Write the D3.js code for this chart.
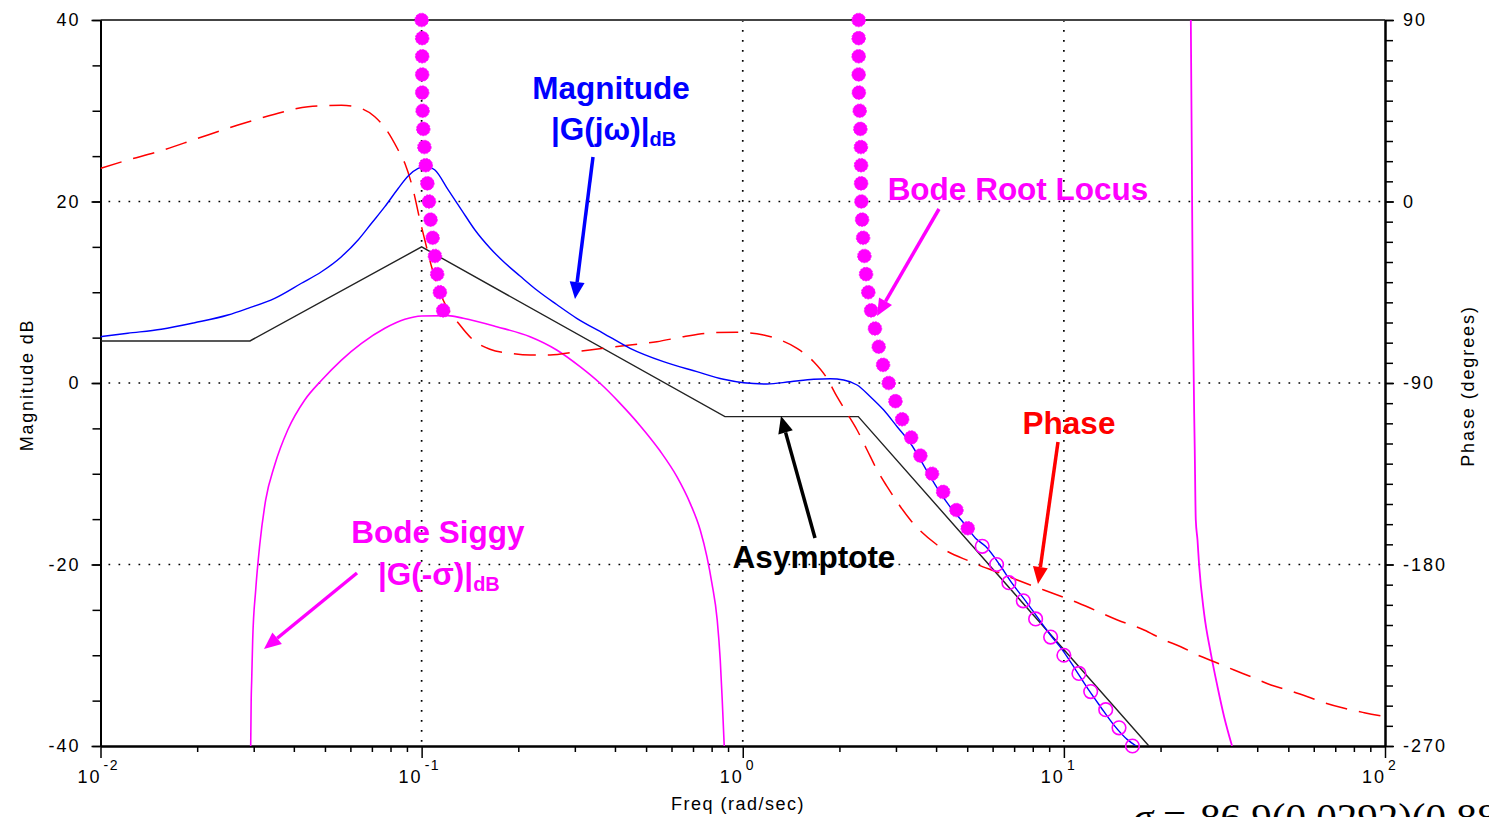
<!DOCTYPE html>
<html><head><meta charset="utf-8">
<script src="https://cdn.jsdelivr.net/npm/d3@7"></script>
<style>
html,body{margin:0;padding:0;background:#fff;overflow:hidden}
svg{display:block}
</style></head><body>
<svg id="c" width="1489" height="817"></svg>
<script>
// ---------- data ----------
const magFreq = [0.01, 0.01216, 0.01546, 0.01964, 0.02494, 0.02878, 0.03487, 0.04224, 0.04876, 0.05628, 0.06341, 0.06982, 0.07682, 0.08451, 0.0908, 0.09754, 0.1036, 0.11, 0.121, 0.1332, 0.1466, 0.1632, 0.1818, 0.2025, 0.2282, 0.2634, 0.3041, 0.3681, 0.4459, 0.5664, 0.7197, 0.8714, 1.006, 1.19, 1.406, 1.663, 1.874, 2.062, 2.27, 2.497, 2.748, 3.026, 3.328, 3.76, 4.07, 4.436, 4.87, 5.307, 5.702, 6.305, 6.873, 7.597, 8.344, 9.093, 9.89, 10.88, 11.83, 13.02, 14.32, 15.77, 16.8];
const magDb = [5.1, 5.48, 5.92, 6.64, 7.49, 8.23, 9.33, 10.99, 12.26, 13.92, 15.76, 17.6, 19.43, 21.43, 22.81, 23.64, 23.86, 23.47, 21.27, 19.06, 16.86, 14.88, 13.22, 11.79, 10.25, 8.65, 7.13, 5.48, 3.82, 2.35, 1.25, 0.41, 0.03, -0.11, 0.14, 0.41, 0.47, 0.33, -0.22, -1.51, -2.98, -4.82, -6.64, -9.8, -11.8, -13.7, -15.4, -17.1, -18.0, -20, -22, -24, -26, -27.8, -29.4, -31.6, -33.6, -35.7, -37.7, -39.3, -40];

const asymFreq = [0.01, 0.0292, 0.1, 0.88, 2.29, 18.4];
const asymDb = [4.63, 4.63, 15.0, -3.7, -3.7, -40];

const phaseFreq = [0.01, 0.01188, 0.01546, 0.02011, 0.0268, 0.03487, 0.04429, 0.05628, 0.06192, 0.07148, 0.07775, 0.08451, 0.08867, 0.09413, 0.09876, 0.1023, 0.1074, 0.1167, 0.1316, 0.1448, 0.1632, 0.1884, 0.2176, 0.2512, 0.3041, 0.3681, 0.4459, 0.5401, 0.6537, 0.811, 0.9592, 1.161, 1.309, 1.476, 1.663, 1.83, 1.966, 2.113, 2.27, 2.439, 2.62, 2.816, 3.098, 3.328, 4.032, 5.12, 6.35, 7.16, 8.666, 10.5, 12.12, 14.68, 17.77, 20.51, 23.12, 26.07, 29.38, 33.9, 38.23, 44.13, 49.76, 57.41, 64.7, 74.68, 86.2, 100];
const phaseDeg = [16.46, 20.08, 25.19, 31.34, 37.93, 43.24, 47.01, 47.7, 47.01, 42.05, 35.45, 25.54, 18.94, 5.7, -9.17, -19.09, -32.33, -48.84, -61.24, -68.68, -73.29, -75.27, -76.12, -76.12, -74.48, -72.8, -71.16, -69.52, -67.04, -65.06, -64.86, -66.2, -68.68, -72.8, -79.44, -87.67, -96.79, -105.03, -113.31, -123.22, -133.14, -141.42, -151.34, -157.94, -170.33, -178.61, -184.36, -187.69, -192.65, -197.6, -201.72, -207.52, -212.48, -217.44, -220.76, -224.88, -228.2, -232.32, -235.64, -239.75, -242.23, -245.56, -248.53, -251.31, -253.49, -255.47];

const siggyLFreq = [0.02936, 0.02946, 0.02957, 0.02978, 0.03043, 0.03132, 0.03269, 0.03487, 0.03828, 0.04325, 0.04887, 0.05628, 0.06498, 0.07682, 0.08867, 0.1, 0.121, 0.1348, 0.1713, 0.2176, 0.2634, 0.3114, 0.3594, 0.415, 0.4791, 0.5531, 0.6236, 0.6859, 0.7372, 0.7733, 0.8017, 0.8327, 0.851, 0.8632, 0.8756];
const siggyLDb = [-40, -34.93, -32.73, -28.32, -22.81, -17.85, -12.89, -9.04, -5.18, -1.87, 0.33, 2.53, 4.37, 6.03, 7.02, 7.38, 7.42, 7.13, 6.2, 5.1, 3.64, 1.8, -0.03, -2.24, -4.7, -7.5, -10.32, -13.26, -16.2, -19.14, -22.07, -26.12, -30.52, -34.93, -40];

const siggyRFreq = [24.85, 25.02, 25.2, 25.56, 25.75, 26.07, 26.37, 27.33, 28.68, 30.09, 31.55, 33.4];
const siggyRDb = [40, 25.67, 9.15, -7.38, -15.1, -17.3, -20.06, -25.38, -29.79, -33.47, -36.77, -40];

const locusLFreq = [0.1, 0.1004, 0.1004, 0.1004, 0.1004, 0.1007, 0.1012, 0.102, 0.103, 0.1042, 0.1054, 0.1066, 0.1082, 0.11, 0.1118, 0.114, 0.1167];
const locusLDb = [40, 38, 36, 34, 32, 30, 28, 26, 24, 22, 20, 18, 16, 14, 12, 10, 8];

const locusRFreq = [2.296, 2.296, 2.296, 2.296, 2.299, 2.313, 2.324, 2.333, 2.336, 2.336, 2.341, 2.353, 2.37, 2.392, 2.421, 2.46, 2.51, 2.58, 2.651, 2.735, 2.848, 2.989, 3.135, 3.345, 3.574, 3.887, 4.207, 4.629, 5.02];
const locusRDb = [40, 38, 36, 34, 32, 30, 28, 26, 24, 22, 20, 18, 16, 14, 12, 10, 8, 6, 4, 2, 0, -2, -4, -6, -8, -10, -12, -14, -16];

const locusOFreq = [5.568, 6.171, 6.741, 7.474, 8.166, 9.093, 10.0, 11.14, 12.12, 13.5, 14.85, 16.35];
const locusODb = [-18, -20, -22, -24, -26, -28, -30, -32, -34, -36, -38, -40];

const magTicks = [-40, -20, 0, 20, 40];
const phaseTicks = [-270, -180, -90, 0, 90];
const freqTicks = [0.01, 0.1, 1, 10, 100];
const freqExp = ["-2", "-1", "0", "1", "2"];
const gridDb = [20, 0, -20];
const gridFreq = [0.1, 1, 10];

// ---------- layout ----------
const L = 100.5, R = 1385, T = 20, B = 746;
const svg = d3.select("#c");
const x = d3.scaleLog().domain([0.01, 100]).range([L, R]);
const yM = d3.scaleLinear().domain([-40, 40]).range([B, T]);
const yP = d3.scaleLinear().domain([-270, 90]).range([B, T]);
const SANS = "'Liberation Sans', Arial, sans-serif";
const fmt = d => String(d);

svg.append("defs").append("clipPath").attr("id", "plot")
  .append("rect").attr("x", L).attr("y", T).attr("width", R - L).attr("height", B - T);

// grid
const grid = svg.append("g").attr("stroke", "#000").attr("stroke-width", 1.7)
  .attr("stroke-dasharray", "1.7,8.3");
gridDb.forEach(v => grid.append("line").attr("x1", L + 8).attr("x2", R).attr("y1", yM(v)).attr("y2", yM(v)));
gridFreq.forEach(f => grid.append("line").attr("x1", x(f)).attr("x2", x(f)).attr("y1", T).attr("y2", B));

// top border
svg.append("line").attr("x1", L).attr("x2", R).attr("y1", T).attr("y2", T)
  .attr("stroke", "#444").attr("stroke-width", 2);

// axes
const minorDb = d3.range(-40, 41, 5);
const minorDeg = d3.range(-270, 91, 10);
const minorF = [];
[0.01, 0.1, 1, 10].forEach(d => { for (let k = 2; k <= 9; k++) minorF.push(d * k); });

function styleAxis(g) {
  g.select(".domain").attr("stroke", "#000").attr("stroke-width", 2);
  g.selectAll(".tick line").attr("stroke", "#000").attr("stroke-width", 1.5);
  g.selectAll("text").attr("font-family", SANS).attr("font-size", 18)
    .attr("letter-spacing", 2).attr("fill", "#000");
}
svg.append("g").attr("transform", `translate(${L},0)`)
  .call(d3.axisLeft(yM).tickValues(minorDb).tickSize(8).tickSizeOuter(0).tickFormat(""))
  .call(styleAxis);
svg.append("g").attr("transform", `translate(${L},0)`)
  .call(d3.axisLeft(yM).tickValues(magTicks).tickSize(9).tickSizeOuter(0).tickPadding(11).tickFormat(fmt))
  .call(styleAxis);
svg.append("g").attr("transform", `translate(${R},0)`)
  .call(d3.axisRight(yP).tickValues(minorDeg).tickSize(8).tickSizeOuter(0).tickFormat(""))
  .call(styleAxis);
svg.append("g").attr("transform", `translate(${R},0)`)
  .call(d3.axisRight(yP).tickValues(phaseTicks).tickSize(9).tickSizeOuter(0).tickPadding(9).tickFormat(fmt))
  .call(styleAxis);
svg.append("g").attr("transform", `translate(0,${B})`)
  .call(d3.axisBottom(x).tickValues(minorF).tickSize(6).tickSizeOuter(0).tickFormat(""))
  .call(styleAxis);
svg.append("g").attr("transform", `translate(0,${B})`)
  .call(d3.axisBottom(x).tickValues(freqTicks).tickSize(12).tickSizeOuter(0).tickFormat(""))
  .call(styleAxis);
// decade labels 10^n
freqTicks.forEach((f, i) => {
  svg.append("text").attr("font-family", SANS).attr("fill", "#000")
    .attr("x", x(f) + 1).attr("y", 783).attr("font-size", 18)
    .attr("letter-spacing", 2).attr("text-anchor", "end").text("10");
  svg.append("text").attr("font-family", SANS).attr("fill", "#000")
    .attr("x", x(f) + 3).attr("y", 770).attr("font-size", 14).attr("letter-spacing", 1.5)
    .text(freqExp[i]);
});

// axis titles
svg.append("text").attr("font-family", SANS).attr("font-size", 18).attr("letter-spacing", 1.8)
  .attr("text-anchor", "middle").attr("transform", "translate(33,385) rotate(-90)").text("Magnitude dB");
svg.append("text").attr("font-family", SANS).attr("font-size", 18).attr("letter-spacing", 1.9)
  .attr("text-anchor", "middle").attr("transform", "translate(1474,386) rotate(-90)").text("Phase (degrees)");
svg.append("text").attr("font-family", SANS).attr("font-size", 18).attr("letter-spacing", 1.5)
  .attr("text-anchor", "middle").attr("x", 738).attr("y", 810).text("Freq (rad/sec)");

// ---------- curves ----------
const plot = svg.append("g").attr("clip-path", "url(#plot)");
const lineOf = (fs, vs, ys, curve) => d3.line()
  .x((d, i) => x(fs[i])).y((d, i) => ys(vs[i])).curve(curve || d3.curveMonotoneX)(fs);

plot.append("path").attr("d", lineOf(siggyLFreq, siggyLDb, yM))
  .attr("fill", "none").attr("stroke", "#ff00ff").attr("stroke-width", 1.6);
plot.append("path").attr("d", lineOf(siggyRFreq, siggyRDb, yM))
  .attr("fill", "none").attr("stroke", "#ff00ff").attr("stroke-width", 1.8);
plot.append("path").attr("d", lineOf(asymFreq, asymDb, yM, d3.curveLinear))
  .attr("fill", "none").attr("stroke", "#222").attr("stroke-width", 1.4);
plot.append("path").attr("d", lineOf(phaseFreq, phaseDeg, yP))
  .attr("fill", "none").attr("stroke", "#ff0000").attr("stroke-width", 1.5)
  .attr("stroke-dasharray", "22,12");
plot.append("path").attr("d", lineOf(magFreq, magDb, yM))
  .attr("fill", "none").attr("stroke", "#0000ff").attr("stroke-width", 1.4);

// root-locus markers
const mk = svg.append("g");
[[locusLFreq, locusLDb], [locusRFreq, locusRDb]].forEach(([fs, vs]) => {
  mk.selectAll(null).data(fs).enter().append("circle")
    .attr("cx", (d) => x(d)).attr("cy", (d, i) => yM(vs[i])).attr("r", 6.8)
    .attr("fill", "#ff00ff").attr("stroke", "#ff00ff").attr("stroke-width", 0.8)
    .attr("stroke-dasharray", "2,1.2");
});
mk.selectAll(null).data(locusOFreq).enter().append("circle")
  .attr("cx", d => x(d)).attr("cy", (d, i) => yM(locusODb[i])).attr("r", 6.8)
  .attr("fill", "none").attr("stroke", "#ff00ff").attr("stroke-width", 1.6);

// ---------- annotations ----------
function arrow(x1, y1, x2, y2, color) {
  const a = Math.atan2(y2 - y1, x2 - x1), hl = 17, hw = 7.5;
  const bx = x2 - hl * Math.cos(a), by = y2 - hl * Math.sin(a);
  svg.append("line").attr("x1", x1).attr("y1", y1).attr("x2", bx).attr("y2", by)
    .attr("stroke", color).attr("stroke-width", 3.5);
  const px = -Math.sin(a) * hw, py = Math.cos(a) * hw;
  svg.append("polygon").attr("points",
    `${x2},${y2} ${bx + px},${by + py} ${bx - px},${by - py}`).attr("fill", color);
}
function label(txt, cx, y, color, sub, anchor) {
  const t = svg.append("text").attr("font-family", SANS).attr("font-weight", "bold")
    .attr("font-size", 31.5).attr("fill", color).attr("x", cx).attr("y", y)
    .attr("text-anchor", anchor || "middle");
  t.append("tspan").text(txt);
  if (sub) t.append("tspan").attr("font-size", 20).attr("dy", 6).text(sub);
  return t;
}
label("Magnitude", 611, 99, "#0000ff");
label("|G(jω)|", 551, 140, "#0000ff", "dB", "start");
arrow(593, 157, 575, 299, "#0000ff");

label("Bode Root Locus", 1018, 200, "#ff00ff");
arrow(939, 209, 877, 316, "#ff00ff");

label("Phase", 1069, 434, "#ff0000");
arrow(1058, 442, 1038, 584, "#ff0000");

label("Asymptote", 814, 568, "#000");
arrow(815, 538, 781, 416, "#000");

label("Bode Siggy", 438, 543, "#ff00ff");
label("|G(-σ)|", 378, 585, "#ff00ff", "dB", "start");
arrow(357, 573, 264, 649, "#ff00ff");

// partially visible equation at bottom-right (cut by the frame, as in the source)
const SERIF = "'Liberation Serif', 'Times New Roman', serif";
svg.append("text").attr("font-family", SERIF).attr("font-style", "italic")
  .attr("font-size", 41).attr("fill", "#000").attr("x", 1133).attr("y", 831).text("σ");
svg.append("text").attr("font-family", SERIF)
  .attr("font-size", 41).attr("fill", "#000").attr("x", 1163).attr("y", 831).text("=");
svg.append("text").attr("font-family", SERIF)
  .attr("font-size", 41).attr("fill", "#000").attr("x", 1200).attr("y", 831).text("86.9(0.0292)(0.88)");
</script>
</body></html>
